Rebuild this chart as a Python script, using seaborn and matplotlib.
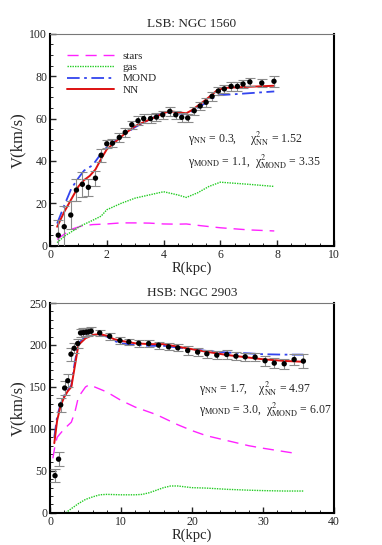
import numpy as np
import pandas as pd
import matplotlib
matplotlib.use('Agg')
import matplotlib.pyplot as plt
import seaborn as sns
from matplotlib.ticker import MultipleLocator

# ---- NGC 1560 (LSB) ----
lsb_r_obs = [0.29, 0.5, 0.73, 0.93, 1.14, 1.35, 1.6, 1.8, 2.0, 2.2, 2.44, 2.65, 2.88, 3.1,
             3.3, 3.54, 3.75, 3.97, 4.22, 4.43, 4.64, 4.85, 5.08, 5.29, 5.5, 5.71, 5.93,
             6.14, 6.38, 6.6, 6.8, 7.04, 7.46, 7.89]
lsb_v_obs = [5.0, 9.0, 14.5, 26.3, 29.0, 27.6, 31.9, 42.7, 48.1, 48.4, 51.1, 53.5, 57.1, 59.0,
             60.0, 60.0, 60.7, 61.8, 63.4, 61.8, 60.6, 60.3, 63.7, 65.9, 67.7, 70.5, 73.0,
             74.0, 75.2, 75.2, 76.3, 77.3, 76.8, 77.6]
lsb_v_err = [7.0, 10.0, 6.5, 5.0, 6.0, 4.0, 3.5, 3.0, 2.0, 2.0, 2.0, 2.0, 2.0, 2.0,
             2.0, 2.0, 2.0, 2.0, 2.0, 2.0, 2.0, 2.0, 2.0, 2.0, 2.0, 2.0, 2.0,
             2.0, 2.0, 2.0, 2.0, 2.0, 2.0, 2.5]

lsb_r_nn = [0.25, 0.5, 0.75, 1.0, 1.2, 1.4, 1.6, 1.8, 2.0, 2.3, 2.6, 3.0, 3.5, 4.0, 4.2, 4.5,
            4.8, 5.0, 5.5, 5.9, 6.2, 7.0, 7.9]
lsb_v_nn = [9.0, 16.0, 22.0, 28.0, 31.0, 33.0, 36.0, 41.0, 45.5, 49.0, 52.5, 56.5, 59.5, 62.5,
            63.5, 63.0, 62.5, 64.0, 69.0, 73.5, 74.5, 75.0, 75.5]
lsb_r_mond = [0.25, 0.5, 0.75, 1.0, 1.2, 1.5, 1.8, 2.0, 2.5, 3.0, 3.5, 4.0, 4.5, 4.8, 5.0,
              5.5, 5.9, 6.5, 7.9]
lsb_v_mond = [10.5, 19.0, 27.0, 32.0, 35.5, 38.0, 43.5, 46.5, 51.5, 56.0, 59.5, 63.0, 62.5,
              62.0, 63.5, 67.5, 71.0, 71.5, 72.8]
lsb_r_gas = [0.25, 0.5, 0.8, 1.1, 1.5, 1.8, 2.0, 2.5, 3.0, 3.5, 4.0, 4.5, 4.8, 5.2, 5.6, 6.0,
             6.5, 7.0, 7.9]
lsb_v_gas = [1.5, 4.5, 7.0, 9.5, 12.0, 14.0, 17.0, 20.0, 22.5, 24.0, 25.5, 24.0, 22.8, 25.0,
             28.0, 30.0, 29.5, 29.0, 28.0]
lsb_r_stars = [0.25, 0.5, 0.8, 1.1, 1.5, 2.0, 2.5, 3.0, 3.5, 4.0, 4.5, 4.8, 5.3, 6.0, 7.0, 7.9]
lsb_v_stars = [3.0, 5.5, 8.0, 9.3, 10.0, 10.3, 10.8, 10.8, 10.7, 10.3, 10.2, 10.3, 9.5, 8.5,
               7.5, 7.0]

# ---- NGC 2903 (HSB) ----
hsb_r_obs = [0.7, 1.2, 1.5, 2.06, 2.5, 2.95, 3.4, 3.9, 4.3, 4.7, 5.1, 5.4, 5.8, 7.0, 8.4, 9.85,
             11.1, 12.5, 13.9, 15.3, 16.7, 18.0, 19.4, 20.8, 22.1, 23.5, 24.9, 26.2, 27.5,
             28.9, 30.3, 31.6, 33.0, 34.4, 35.7]
hsb_v_obs = [44.3, 64.0, 128.6, 148.7, 157.4, 189.0, 196.0, 201.7, 214.4, 214.8, 215.2, 215.6,
             216.4, 214.4, 210.4, 205.3, 203.7, 202.0, 201.7, 199.8, 197.8, 196.6, 193.4,
             191.5, 189.5, 187.9, 188.7, 186.7, 185.9, 185.5, 181.2, 178.4, 177.6, 182.7, 180.8]
hsb_v_err = [8.0, 8.0, 8.0, 8.0, 8.0, 8.0, 6.0, 5.0, 5.0, 5.0, 5.0, 5.0, 5.0, 4.0, 4.0, 4.0,
             4.0, 4.0, 4.0, 4.0, 4.0, 4.0, 5.0, 5.0, 5.0, 5.0, 5.0, 5.0, 5.0, 5.0, 6.0, 6.0,
             6.0, 7.0, 8.0]

hsb_r_nn = [0.6, 1.0, 1.5, 2.0, 2.5, 3.0, 3.5, 4.0, 5.0, 6.0, 7.0, 8.0, 9.0, 10.0, 12.0, 14.0,
            16.0, 18.0, 20.0, 22.0, 25.0, 28.0, 30.0, 33.0, 35.7]
hsb_v_nn = [83, 110, 128, 138, 145, 150, 175, 200, 208, 212, 213, 211, 207, 205, 202, 201,
            201, 198, 195, 192, 188, 185, 183, 181, 180]
hsb_r_mond = [0.6, 1.0, 1.5, 2.0, 2.5, 3.0, 3.5, 4.0, 5.0, 6.0, 7.0, 8.0, 9.0, 10.0, 12.0,
              14.0, 16.0, 18.0, 20.0, 22.0, 25.0, 28.0, 30.0, 33.0, 35.7]
hsb_v_mond = [90, 115, 130, 140, 146, 152, 180, 202, 210, 212, 212, 210, 205, 202, 200, 199,
              199, 197, 195, 193, 191, 190, 189, 188.5, 188.5]
hsb_r_stars = [0.4, 0.7, 1.0, 2.0, 3.0, 3.5, 4.0, 5.0, 5.5, 6.0, 8.0, 10.0, 12.0, 15.0, 18.0,
               20.0, 22.0, 25.0, 28.0, 30.0, 33.0, 34.5]
hsb_v_stars = [65, 80, 90, 100, 108, 120, 138, 150, 152.5, 151, 144, 134, 126, 117, 105, 98,
               92, 86, 80, 77, 73, 71]
hsb_r_gas = [2.2, 3.0, 4.0, 5.0, 6.0, 7.0, 8.0, 10.0, 12.0, 13.0, 14.0, 15.0, 16.0, 17.0, 18.0,
             19.0, 20.0, 22.0, 25.0, 28.0, 30.0, 33.0, 35.7]
hsb_v_gas = [0, 5, 11, 16, 19, 21.5, 22, 21.5, 21.5, 22, 24, 27, 30, 32, 32, 31, 30, 29.5, 28,
             27, 26.5, 26, 26]

sns.set_theme(style='ticks')
plt.rcParams['font.family'] = ['Liberation Serif', 'DejaVu Serif']
plt.rcParams['mathtext.fontset'] = 'stix'
plt.rcParams['xtick.direction'] = 'in'
plt.rcParams['ytick.direction'] = 'in'

C_STARS = '#ff22ff'
C_GAS = '#22cc22'
C_MOND = '#3344ee'
C_NN = '#dd1111'


def draw_panel(ax, d, title, xlim, ylim, xmaj, xmin, ymaj, ymin, txt_xy, txt):
    sns.lineplot(x=d['rs'], y=d['vs'], ax=ax, color=C_STARS, lw=1.0, label='stars',
                 dashes=(8, 5), sort=False)
    sns.lineplot(x=d['rg'], y=d['vg'], ax=ax, color=C_GAS, lw=1.0, label='gas',
                 dashes=(1, 0.8), sort=False)
    sns.lineplot(x=d['rm'], y=d['vm'], ax=ax, color=C_MOND, lw=1.3, label='MOND',
                 dashes=(7, 2.5, 1.5, 2.5), sort=False)
    sns.lineplot(x=d['rn'], y=d['vn'], ax=ax, color=C_NN, lw=1.4, label='NN', sort=False)
    ax.errorbar(d['ro'], d['vo'], yerr=d['ve'], fmt='none', ecolor='#8a8a8a',
                elinewidth=0.8, capsize=3.5, capthick=0.8, zorder=3)
    sns.scatterplot(x=d['ro'], y=d['vo'], ax=ax, color='black', s=15, edgecolor='none',
                    zorder=4)
    ax.set_xlim(*xlim)
    ax.set_ylim(*ylim)
    ax.xaxis.set_major_locator(MultipleLocator(xmaj))
    ax.xaxis.set_minor_locator(MultipleLocator(xmin))
    ax.yaxis.set_major_locator(MultipleLocator(ymaj))
    ax.yaxis.set_minor_locator(MultipleLocator(ymin))
    ax.tick_params(which='major', length=4, width=1.0, labelsize=8.5, pad=2,
                   top=False, right=False)
    ax.tick_params(which='minor', length=2.2, width=0.7, top=False, right=False)
    for s in ['left', 'bottom', 'right']:
        ax.spines[s].set_linewidth(1.5)
        ax.spines[s].set_color('black')
    ax.spines['top'].set_linewidth(0.8)
    ax.spines['top'].set_color('#777777')
    ax.set_title(title, fontsize=9.5, pad=5)
    ax.set_xlabel('R(kpc)', fontsize=10.5, labelpad=1)
    ax.set_ylabel('V(km/s)', fontsize=12, labelpad=2)
    ax.text(txt_xy[0], txt_xy[1], txt[0], fontsize=8.5, va='center')
    ax.text(txt_xy[0], txt_xy[2], txt[1], fontsize=8.5, va='center')


fig = plt.figure(figsize=(3.82, 5.45), dpi=100)
ax1 = fig.add_axes([0.131, 0.549, 0.743, 0.389])
ax2 = fig.add_axes([0.131, 0.059, 0.743, 0.385])

lsb = dict(ro=lsb_r_obs, vo=lsb_v_obs, ve=lsb_v_err, rn=lsb_r_nn, vn=lsb_v_nn,
           rm=lsb_r_mond, vm=lsb_v_mond, rg=lsb_r_gas, vg=lsb_v_gas,
           rs=lsb_r_stars, vs=lsb_v_stars)
hsb = dict(ro=hsb_r_obs, vo=hsb_v_obs, ve=hsb_v_err, rn=hsb_r_nn, vn=hsb_v_nn,
           rm=hsb_r_mond, vm=hsb_v_mond, rg=hsb_r_gas, vg=hsb_v_gas,
           rs=hsb_r_stars, vs=hsb_v_stars)

draw_panel(ax1, lsb, 'LSB: NGC 1560', (0, 10), (0, 100), 2, 0.5, 20, 5, (4.85, 50.3, 39.7),
           ['γ$_{\\rm NN}$ = 0.3,     χ$^{2}_{\\rm NN}$ = 1.52',
            'γ$_{\\rm MOND}$ = 1.1,  χ$^{2}_{\\rm MOND}$ = 3.35'])
draw_panel(ax2, hsb, 'HSB: NGC 2903', (0, 40), (0, 250), 10, 2, 50, 10, (21.0, 148, 122),
           ['γ$_{\\rm NN}$ = 1.7,    χ$^{2}_{\\rm NN}$ = 4.97',
            'γ$_{\\rm MOND}$ = 3.0,  χ$^{2}_{\\rm MOND}$ = 6.07'])

ax1.legend(loc='upper left', bbox_to_anchor=(0.06, 0.92), frameon=False, fontsize=8,
           handlelength=4.2, handletextpad=0.8, labelspacing=0.15, borderpad=0,
           borderaxespad=0)
ax2.get_legend().remove()

fig.savefig('out.png', dpi=100)
